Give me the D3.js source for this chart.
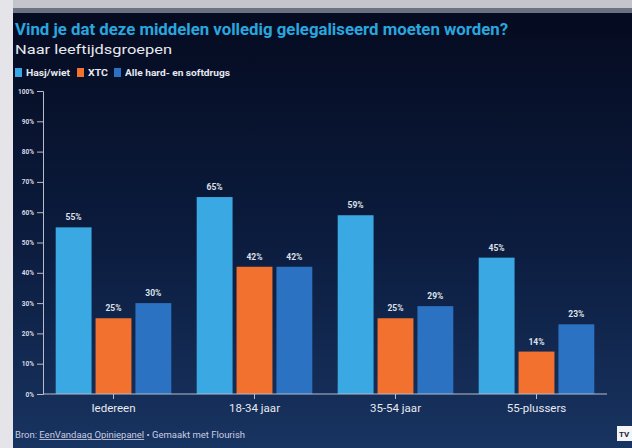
<!DOCTYPE html>
<html>
<head>
<meta charset="utf-8">
<script src="https://cdn.jsdelivr.net/npm/d3@7"></script>
<style>
  html, body { margin: 0; padding: 0; background: #e3e3e8; }
  svg { display: block; }
  text { font-family: "Roboto", "Liberation Sans", sans-serif; }
</style>
</head>
<body>
<svg id="chart" width="632" height="448"></svg>
<script>
const groups = ["Iedereen", "18-34 jaar", "35-54 jaar", "55-plussers"];
const series = ["Hasj/wiet", "XTC", "Alle hard- en softdrugs"];
const hasj = [55, 65, 59, 45];
const xtc = [25, 42, 25, 14];
const alle = [30, 42, 29, 23];
const yTicks = [0, 10, 20, 30, 40, 50, 60, 70, 80, 90, 100];
const colors = ["#3aa8e2", "#f2712f", "#2b72c2"];

const values = [hasj, xtc, alle];

const svg = d3.select("#chart");
const W = 632, H = 448;

// background
const defs = svg.append("defs");
const grad = defs.append("linearGradient").attr("id", "bg")
  .attr("x1", 0).attr("y1", 0).attr("x2", 0).attr("y2", 1);
grad.append("stop").attr("offset", "0%").attr("stop-color", "#050b20");
grad.append("stop").attr("offset", "55%").attr("stop-color", "#0c1d40");
grad.append("stop").attr("offset", "100%").attr("stop-color", "#183461");

svg.append("rect").attr("x", 0).attr("y", 0).attr("width", W).attr("height", H).attr("fill", "#e4e4e9");
svg.append("rect").attr("x", 13).attr("y", 0).attr("width", W - 13).attr("height", 8).attr("fill", "#c4c5cc");
svg.append("rect").attr("x", 13).attr("y", 8).attr("width", W - 13).attr("height", 5).attr("fill", "#6d7283");
svg.append("rect").attr("x", 13).attr("y", 13).attr("width", W - 13).attr("height", H - 13).attr("fill", "url(#bg)");

// titles
svg.append("text").attr("x", 15).attr("y", 35)
  .attr("fill", "#2aa6df").attr("font-size", 16.5).attr("font-weight", "bold")
  .attr("textLength", 493).attr("lengthAdjust", "spacingAndGlyphs")
  .text("Vind je dat deze middelen volledig gelegaliseerd moeten worden?");
svg.append("text").attr("x", 15).attr("y", 54)
  .attr("fill", "#e8e8ee").attr("font-size", 13)
  .attr("textLength", 157).attr("lengthAdjust", "spacingAndGlyphs")
  .text("Naar leeftijdsgroepen");

// legend
const legendX = [15, 77, 114];
const legendW = [44, 20, 105];
const legend = svg.append("g");
series.forEach((s, i) => {
  legend.append("rect").attr("x", legendX[i]).attr("y", 68).attr("width", 7).attr("height", 9).attr("fill", colors[i]);
  legend.append("text").attr("x", legendX[i] + 11).attr("y", 76)
    .attr("fill", "#e6e8f0").attr("font-size", 8.5).attr("font-weight", "bold")
    .attr("textLength", legendW[i]).attr("lengthAdjust", "spacingAndGlyphs")
    .text(s);
});

// scales
const x0 = d3.scaleBand().domain(groups).range([43, 607]).paddingInner(0.18).paddingOuter(0.09);
const x1 = d3.scaleBand().domain(series).range([0, x0.bandwidth()]).paddingInner(0.1);
const y = d3.scaleLinear().domain([0, 100]).range([394, 91]);

// y axis
const yAxis = svg.append("g").attr("transform", "translate(43,0)")
  .call(d3.axisLeft(y).tickValues(yTicks).tickFormat(d => d + "%").tickSize(6).tickPadding(3));
yAxis.select(".domain").attr("stroke", "#b8bccb");
yAxis.selectAll(".tick line").attr("stroke", "#b8bccb");
yAxis.selectAll(".tick text").attr("fill", "#d8dae4").attr("font-size", 6.5).attr("font-weight", "bold");

// bars
const gGroups = svg.selectAll("g.group").data(groups).enter().append("g")
  .attr("class", "group")
  .attr("transform", d => `translate(${x0(d)},0)`);

gGroups.selectAll("rect").data((d, gi) => series.map((s, si) => ({ s, si, v: values[si][gi] })))
  .enter().append("rect")
  .attr("x", d => x1(d.s))
  .attr("width", x1.bandwidth())
  .attr("y", d => y(d.v))
  .attr("height", d => y(0) - y(d.v))
  .attr("fill", d => colors[d.si]);

gGroups.selectAll("text.val").data((d, gi) => series.map((s, si) => ({ s, si, v: values[si][gi] })))
  .enter().append("text")
  .attr("class", "val")
  .attr("x", d => x1(d.s) + x1.bandwidth() / 2)
  .attr("y", d => y(d.v) - 7)
  .attr("text-anchor", "middle")
  .attr("fill", "#dfe2ea").attr("font-size", 8.5).attr("font-weight", "bold")
  .text(d => d.v + "%");

// x axis
const xAxis = svg.append("g").attr("transform", "translate(0,394)")
  .call(d3.axisBottom(x0).tickSize(5).tickSizeOuter(0).tickPadding(5));
xAxis.select(".domain").attr("stroke", "#b8bccb").attr("d", "M43,0H607");
xAxis.selectAll(".tick line").attr("stroke", "#b8bccb");
xAxis.selectAll(".tick text").attr("fill", "#e8eaf0").attr("font-size", 11.5);

// footer
const foot = svg.append("text").attr("x", 15).attr("y", 438)
  .attr("fill", "#c9cde0").attr("font-size", 8.5)
  .attr("textLength", 230).attr("lengthAdjust", "spacingAndGlyphs");
foot.append("tspan").text("Bron: ");
foot.append("tspan").attr("text-decoration", "underline").text("EenVandaag Opiniepanel");
foot.append("tspan").text(" • Gemaakt met Flourish");

// logo
svg.append("rect").attr("x", 617).attr("y", 426).attr("width", 15).attr("height", 15).attr("fill", "#f4f4f6");
svg.append("text").attr("x", 619).attr("y", 437).attr("fill", "#1a2540").attr("font-size", 8).attr("font-weight", "bold").text("TV");
</script>
</body>
</html>
